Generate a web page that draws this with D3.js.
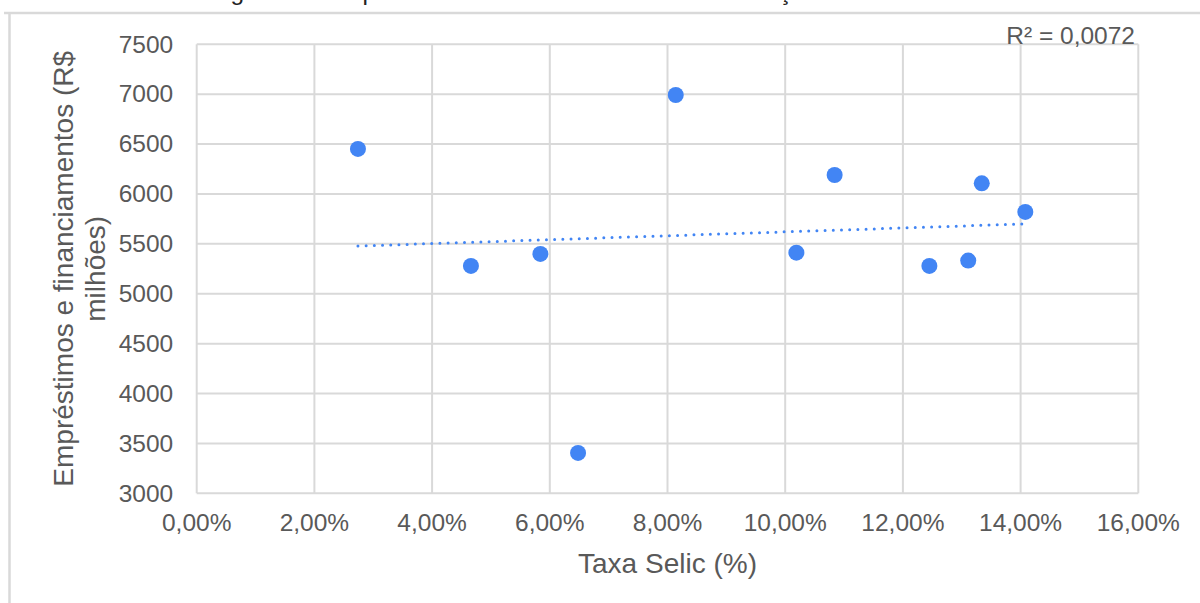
<!DOCTYPE html>
<html>
<head>
<meta charset="utf-8">
<script src="https://cdn.jsdelivr.net/npm/d3@7"></script>
<style>
  html, body { margin: 0; padding: 0; background: #fff; }
  svg { display: block; }
  text { font-family: "Liberation Sans", Arial, sans-serif; fill: #595959; }
</style>
</head>
<body>
<script>
// Taxa Selic (%) por ano e empréstimos e financiamentos (R$ milhões)
const selic = [2.74, 4.66, 5.84, 6.48, 8.14, 10.19, 10.84, 12.45, 13.11, 13.34, 14.08];
const emprestimos = [6451, 5279, 5399, 3405, 6992, 5412, 6190, 5279, 5332, 6107, 5820];
const xTicks = [0, 2, 4, 6, 8, 10, 12, 14, 16];
const yTicks = [3000, 3500, 4000, 4500, 5000, 5500, 6000, 6500, 7000, 7500];
const r2Label = "R² = 0,0072";
const caption = "Figura 1 – Dispersão da Taxa Selic e do crédito: relação anual";
const xTitle = "Taxa Selic (%)";
const yTitle = ["Empréstimos e financiamentos (R$", "milhões)"];

const W = 1200, H = 603;
const m = { left: 196.7, top: 44.3, right: 1200 - 1138.3, bottom: 603 - 493.3 };
const iw = W - m.left - m.right, ih = H - m.top - m.bottom;
const grid = "#d9d9d9";
const blue = "#4285f4";

const svg = d3.select("body").append("svg").attr("width", W).attr("height", H);

// caption of the figure, running off the top of the page
svg.append("text")
  .attr("x", 210).attr("y", 0)
  .style("font-size", "24.5px").style("fill", "#222")
  .text(caption);

// outer frame of the chart
svg.append("line").attr("x1", 4).attr("x2", W).attr("y1", 13).attr("y2", 13)
  .attr("stroke", grid).attr("stroke-width", 2.5);
svg.append("line").attr("x1", 9.5).attr("x2", 9.5).attr("y1", 13).attr("y2", H)
  .attr("stroke", grid).attr("stroke-width", 2.5);

const x = d3.scaleLinear().domain([0, 16]).range([0, iw]);
const y = d3.scaleLinear().domain([3000, 7500]).range([ih, 0]);

const g = svg.append("g").attr("transform", `translate(${m.left},${m.top})`);

// grid lines
g.selectAll(".vg").data(xTicks).join("line")
  .attr("x1", d => x(d)).attr("x2", d => x(d)).attr("y1", 0).attr("y2", ih)
  .attr("stroke", grid).attr("stroke-width", 2);
g.selectAll(".hg").data(yTicks).join("line")
  .attr("x1", 0).attr("x2", iw).attr("y1", d => y(d)).attr("y2", d => y(d))
  .attr("stroke", grid).attr("stroke-width", 2);

// tick labels
const fmtPct = d => d.toFixed(2).replace(".", ",") + "%";
g.selectAll(".xl").data(xTicks).join("text")
  .attr("x", d => x(d)).attr("y", ih + 38)
  .attr("text-anchor", "middle").style("font-size", "24.5px")
  .text(fmtPct);
g.selectAll(".yl").data(yTicks).join("text")
  .attr("x", -23.5).attr("y", d => y(d) + 8.3)
  .attr("text-anchor", "end").style("font-size", "24.5px")
  .text(d => d);

// linear trend (least squares)
const n = selic.length;
const mx = d3.mean(selic), my = d3.mean(emprestimos);
let sxy = 0, sxx = 0;
for (let i = 0; i < n; i++) {
  sxy += (selic[i] - mx) * (emprestimos[i] - my);
  sxx += (selic[i] - mx) ** 2;
}
const slope = sxy / sxx, icpt = my - slope * mx;
const [x0, x1] = d3.extent(selic);
g.append("line")
  .attr("x1", x(x0)).attr("y1", y(icpt + slope * x0))
  .attr("x2", x(x1)).attr("y2", y(icpt + slope * x1))
  .attr("stroke", blue).attr("stroke-width", 3)
  .attr("stroke-linecap", "round").attr("stroke-dasharray", "0 8.2");

// points
g.selectAll(".pt").data(selic).join("circle")
  .attr("cx", d => x(d)).attr("cy", (d, i) => y(emprestimos[i]))
  .attr("r", 8).attr("fill", blue);

// R² label
svg.append("text").attr("x", 1135).attr("y", 44)
  .attr("text-anchor", "end").style("font-size", "24.5px")
  .text(r2Label);

// axis titles
svg.append("text").attr("x", m.left + iw / 2).attr("y", 573)
  .attr("text-anchor", "middle").style("font-size", "28px")
  .text(xTitle);
const yt = svg.append("text")
  .attr("transform", `translate(73,${m.top + ih / 2}) rotate(-90)`)
  .attr("text-anchor", "middle").style("font-size", "28px");
yt.append("tspan").attr("x", 0).attr("y", 0).text(yTitle[0]);
yt.append("tspan").attr("x", 0).attr("y", 32).text(yTitle[1]);
</script>
</body>
</html>
